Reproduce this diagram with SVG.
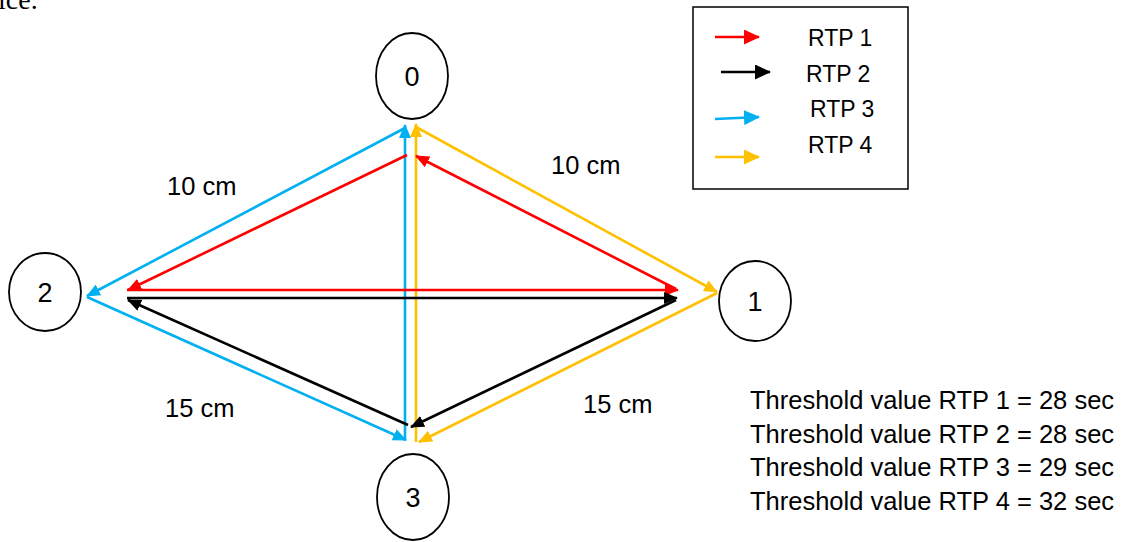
<svg xmlns="http://www.w3.org/2000/svg" width="1130" height="542" viewBox="0 0 1130 542">
  <style>
    .node ellipse { fill: #fff; stroke: #000; stroke-width: 1.8; }
    .lbl { font-family: "Liberation Sans", Arial, sans-serif; fill: #000; }
    .nl { text-anchor: middle; font-size: 27px; }
    .dist { font-size: 25.5px; }
    .leg { font-size: 23px; }
    .thr { font-size: 25.5px; }
    .e { fill: none; stroke-width: 2.6; }
    .r { stroke: #FF0000; }
    .k { stroke: #000000; }
    .b { stroke: #00B0F0; }
    .y { stroke: #FFC000; }
  </style>
  <defs>
    <marker id="ar" viewBox="0 0 14 12" refX="13" refY="6" markerWidth="14" markerHeight="12" markerUnits="userSpaceOnUse" orient="auto"><path d="M0,0 L14,6 L0,12 z" fill="#FF0000"/></marker>
    <marker id="ak" viewBox="0 0 14 12" refX="13" refY="6" markerWidth="14" markerHeight="12" markerUnits="userSpaceOnUse" orient="auto"><path d="M0,0 L14,6 L0,12 z" fill="#000000"/></marker>
    <marker id="ab" viewBox="0 0 14 12" refX="13" refY="6" markerWidth="14" markerHeight="12" markerUnits="userSpaceOnUse" orient="auto"><path d="M0,0 L14,6 L0,12 z" fill="#00B0F0"/></marker>
    <marker id="ay" viewBox="0 0 14 12" refX="13" refY="6" markerWidth="14" markerHeight="12" markerUnits="userSpaceOnUse" orient="auto"><path d="M0,0 L14,6 L0,12 z" fill="#FFC000"/></marker>
    <marker id="lr" viewBox="0 0 16 15" refX="15" refY="7.5" markerWidth="16" markerHeight="15" markerUnits="userSpaceOnUse" orient="auto"><path d="M0,0 L16,7.5 L0,15 z" fill="#FF0000"/></marker>
    <marker id="lk" viewBox="0 0 16 15" refX="15" refY="7.5" markerWidth="16" markerHeight="15" markerUnits="userSpaceOnUse" orient="auto"><path d="M0,0 L16,7.5 L0,15 z" fill="#000000"/></marker>
    <marker id="lb" viewBox="0 0 16 15" refX="15" refY="7.5" markerWidth="16" markerHeight="15" markerUnits="userSpaceOnUse" orient="auto"><path d="M0,0 L16,7.5 L0,15 z" fill="#00B0F0"/></marker>
    <marker id="ly" viewBox="0 0 16 15" refX="15" refY="7.5" markerWidth="16" markerHeight="15" markerUnits="userSpaceOnUse" orient="auto"><path d="M0,0 L16,7.5 L0,15 z" fill="#FFC000"/></marker>
  </defs>

  <rect width="1130" height="542" fill="#fff"/>

  <!-- tail of the preceding paragraph -->
  <text x="-2" y="9" font-family="'Liberation Serif', 'Times New Roman', serif" font-size="28" fill="#000">ice.</text>

  <!-- routes -->
  <g id="connectors">
    <!-- RTP 3 (blue): 0 -> 2 -> 3 -> 0 -->
    <line class="e b" x1="405" y1="128" x2="87" y2="296" marker-end="url(#ab)"/>
    <line class="e b" x1="87" y1="297" x2="406" y2="440" marker-end="url(#ab)"/>
    <line class="e b" x1="405" y1="440" x2="405" y2="125" marker-end="url(#ab)"/>
    <!-- RTP 4 (yellow): 0 -> 1 -> 3 -> 0 -->
    <line class="e y" x1="416" y1="127" x2="717" y2="292" marker-end="url(#ay)"/>
    <line class="e y" x1="717" y1="293" x2="419" y2="442" marker-end="url(#ay)"/>
    <line class="e y" x1="416" y1="442" x2="416" y2="124" marker-end="url(#ay)"/>
    <!-- RTP 1 (red): 0 -> 2 -> 1 -> 0 -->
    <line class="e r" x1="407" y1="155" x2="128" y2="290" marker-end="url(#ar)"/>
    <line class="e r" x1="127" y1="290" x2="678" y2="290" marker-end="url(#ar)"/>
    <line class="e r" x1="676" y1="289" x2="416" y2="156" marker-end="url(#ar)"/>
    <!-- RTP 2 (black): 3 -> 2 -> 1 -> 3 -->
    <line class="e k" x1="408" y1="425" x2="128" y2="300" marker-end="url(#ak)"/>
    <line class="e k" x1="127" y1="298" x2="677" y2="298" marker-end="url(#ak)"/>
    <line class="e k" x1="676" y1="300" x2="411" y2="427" marker-end="url(#ak)"/>
  </g>

  <!-- nodes -->
  <g id="node-0" class="node"><ellipse cx="412" cy="76" rx="36" ry="43"/><text class="lbl nl" x="412" y="86">0</text></g>
  <g id="node-1" class="node"><ellipse cx="755" cy="301" rx="36" ry="40"/><text class="lbl nl" x="755" y="311">1</text></g>
  <g id="node-2" class="node"><ellipse cx="45" cy="292" rx="36" ry="39"/><text class="lbl nl" x="45" y="302">2</text></g>
  <g id="node-3" class="node"><ellipse cx="413" cy="497" rx="36" ry="43"/><text class="lbl nl" x="413" y="507">3</text></g>

  <!-- distance labels -->
  <g id="distances">
    <text class="lbl dist" x="167" y="195">10 cm</text>
    <text class="lbl dist" x="551" y="174">10 cm</text>
    <text class="lbl dist" x="165" y="417">15 cm</text>
    <text class="lbl dist" x="583" y="413">15 cm</text>
  </g>

  <!-- legend -->
  <g id="legend">
    <rect x="693" y="7" width="215" height="182" fill="#fff" stroke="#000" stroke-width="1.5"/>
    <line x1="715" y1="37" x2="759" y2="37" stroke="#FF0000" stroke-width="2.6" marker-end="url(#lr)"/>
    <line x1="721" y1="72" x2="770" y2="72" stroke="#000000" stroke-width="2.6" marker-end="url(#lk)"/>
    <line x1="715" y1="119" x2="759" y2="117" stroke="#00B0F0" stroke-width="2.6" marker-end="url(#lb)"/>
    <line x1="715" y1="157" x2="759" y2="157" stroke="#FFC000" stroke-width="2.6" marker-end="url(#ly)"/>
    <text class="lbl leg" x="808" y="46">RTP 1</text>
    <text class="lbl leg" x="806" y="82">RTP 2</text>
    <text class="lbl leg" x="810" y="117">RTP 3</text>
    <text class="lbl leg" x="808" y="153">RTP 4</text>
  </g>

  <!-- thresholds -->
  <g id="thresholds">
    <text class="lbl thr" x="750" y="409">Threshold value RTP 1 = 28 sec</text>
    <text class="lbl thr" x="750" y="443">Threshold value RTP 2 = 28 sec</text>
    <text class="lbl thr" x="750" y="476">Threshold value RTP 3 = 29 sec</text>
    <text class="lbl thr" x="750" y="510">Threshold value RTP 4 = 32 sec</text>
  </g>
</svg>
